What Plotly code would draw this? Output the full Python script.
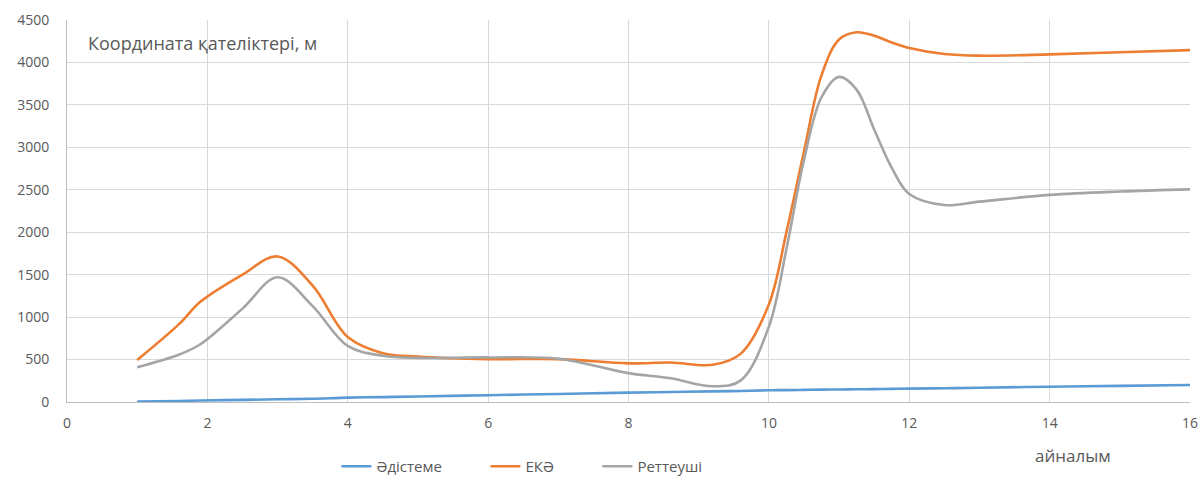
import plotly.graph_objects as go

x_vals = [1, 1.6, 1.9, 2.5, 3, 3.5, 4, 4.5, 5, 6, 7, 8, 8.6, 9.2, 9.6,
          10, 10.25, 10.5, 10.75, 11, 11.25, 11.5, 11.75, 12, 12.5, 13, 14, 15, 16]

adisteme = [5, 12, 18, 25, 32, 38, 52, 58, 65, 80, 95, 110, 118, 125, 130,
            138, 140, 143, 146, 148, 150, 152, 155, 157, 162, 168, 180, 190, 200]
eka = [495, 920, 1180, 1500, 1715, 1370, 765, 575, 535, 505, 505, 455, 465, 438, 570,
       1150, 2000, 2950, 3850, 4270, 4355, 4315, 4235, 4170, 4100, 4080, 4095, 4120, 4145]
retteushi = [410, 560, 680, 1100, 1470, 1130, 660, 545, 520, 525, 510, 340, 280, 185, 255,
             888, 1800, 2850, 3590, 3830, 3680, 3210, 2760, 2450, 2320, 2360, 2440, 2480, 2505]

series_names = ["Әдістеме", "ЕКӘ", "Реттеуші"]
series_colors = ["#5B9BD5", "#ED7D31", "#A5A5A5"]

x_ticks = [0, 2, 4, 6, 8, 10, 12, 14, 16]
y_ticks = [0, 500, 1000, 1500, 2000, 2500, 3000, 3500, 4000, 4500]

FONT = "Open Sans"
TXT = "#595959"

fig = go.Figure()
legend_ids = ["legend", "legend2", "legend3"]
for name, ys, col, lg in zip(series_names, [adisteme, eka, retteushi], series_colors, legend_ids):
    fig.add_trace(go.Scatter(
        x=x_vals, y=ys, name=name, mode="lines",
        line=dict(color=col, width=2.6, shape="spline", smoothing=1.0),
        legend=lg, showlegend=True,
    ))

legend_common = dict(orientation="h", yref="container", yanchor="middle", y=0.026, xanchor="left",
                     font=dict(family=FONT, size=15, color=TXT), bgcolor="rgba(0,0,0,0)",
                     itemwidth=30)

fig.update_layout(
    width=1201, height=479,
    margin=dict(l=67, r=11, t=20, b=77, autoexpand=False),
    paper_bgcolor="white", plot_bgcolor="white",
    showlegend=True,
    font=dict(family=FONT, size=14, color=TXT),
    legend=dict(legend_common, x=0.2399),
    legend2=dict(legend_common, x=0.3726),
    legend3=dict(legend_common, x=0.4723),
    xaxis=dict(range=[0, 16], tickvals=x_ticks, showgrid=True, gridcolor="#D9D9D9", gridwidth=1,
               zeroline=False, showline=True, linecolor="#BFBFBF", linewidth=1,
               ticks="", ticklabelstandoff=8, tickfont=dict(family=FONT, size=14, color=TXT)),
    yaxis=dict(range=[0, 4500], tickvals=y_ticks, showgrid=True, gridcolor="#D9D9D9", gridwidth=1,
               zeroline=False, showline=True, linecolor="#BFBFBF", linewidth=1,
               ticks="", ticklabelstandoff=14, tickfont=dict(family=FONT, size=14, color=TXT)),
    annotations=[
        dict(text="Координата қателіктері, м", x=0.017, y=0.94, xref="paper", yref="paper",
             xanchor="left", yanchor="middle", showarrow=False,
             font=dict(family=FONT, size=18, color=TXT)),
        dict(text="айналым", x=0.896, y=-0.141, xref="paper", yref="paper",
             xanchor="center", yanchor="middle", showarrow=False,
             font=dict(family=FONT, size=17, color=TXT)),
    ],
)

fig.write_html("out.html")
